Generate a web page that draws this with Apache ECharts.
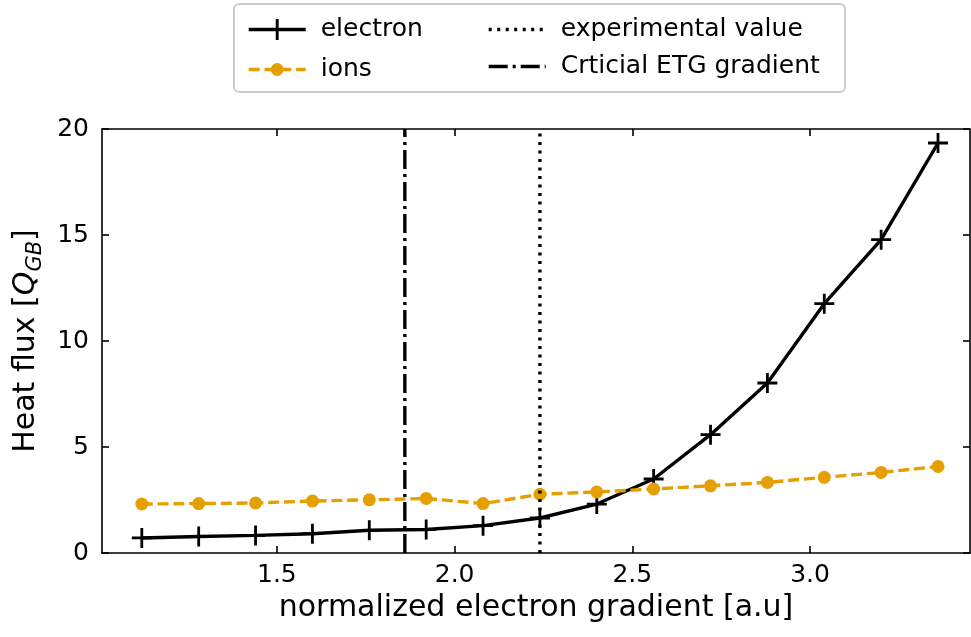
<!DOCTYPE html>
<html>
<head>
<meta charset="utf-8">
<script src="https://cdn.jsdelivr.net/npm/echarts@6/dist/echarts.min.js"></script>
<style>
  html, body { margin: 0; padding: 0; background: #fff; }
  #chart { width: 971px; height: 637px; }
</style>
</head>
<body>
<div id="chart"></div>
<script>
// Normalized electron temperature gradient scan
const gradient = [1.12, 1.28, 1.44, 1.60, 1.76, 1.92, 2.08, 2.24, 2.40, 2.56, 2.72, 2.88, 3.04, 3.20, 3.36];
const electronFlux = [0.71, 0.78, 0.83, 0.91, 1.07, 1.11, 1.29, 1.65, 2.31, 3.49, 5.58, 8.02, 11.76, 14.78, 19.34];
const ionFlux = [2.31, 2.33, 2.36, 2.45, 2.51, 2.57, 2.33, 2.77, 2.88, 3.02, 3.17, 3.33, 3.57, 3.80, 4.08];
const experimentalGradient = 2.24;
const criticalEtgGradient = 1.86;
const xTicks = [1.5, 2.0, 2.5, 3.0];
const yTicks = [0, 5, 10, 15, 20];

const FONT = 'DejaVu Sans';
const X_MIN = 1.008, X_MAX = 3.45;
const Y_MIN = 0, Y_MAX = 20;
const LW = 3.4;

const DOTTED = [3, 5.5];
const DASHDOT = [19, 5, 3, 5];
const DASHED = [11, 4.8];

const pairs = (xs, ys) => xs.map((x, i) => [x, ys[i]]);
const vline = (x) => [[x, Y_MIN], [x, Y_MAX]];

const plusPath = 'path://M8.6,0H11.4V8.6H20V11.4H11.4V20H8.6V11.4H0V8.6H8.6Z';

function baseAxis(type, pos, showLabels, ticks) {
  return {
    type: 'value',
    position: pos,
    min: type === 'x' ? X_MIN : Y_MIN,
    max: type === 'x' ? X_MAX : Y_MAX,
    axisLine: { show: true, onZero: false, lineStyle: { color: '#000', width: 1.6 } },
    axisTick: { show: true, inside: true, length: 7, customValues: ticks, lineStyle: { color: '#000', width: 1.6 } },
    axisLabel: {
      show: showLabels,
      customValues: ticks,
      fontFamily: FONT, fontSize: 25, color: '#000',
      margin: type === 'x' ? 10 : 13,
      formatter: (v) => type === 'x' ? v.toFixed(1) : String(v)
    },
    splitLine: { show: false }
  };
}

const chart = echarts.init(document.getElementById('chart'), null, { renderer: 'canvas' });

const xBottom = baseAxis('x', 'bottom', true, xTicks);
xBottom.name = 'normalized electron gradient [a.u]';
xBottom.nameLocation = 'middle';
xBottom.nameGap = 40;
xBottom.nameTextStyle = { fontFamily: FONT, fontSize: 30, color: '#000' };

const yLeft = baseAxis('y', 'left', true, yTicks);
yLeft.name = '{a|Heat flux [}{q|Q}{s|GB}{a|]}';
yLeft.nameLocation = 'middle';
yLeft.nameGap = 56;
yLeft.nameTextStyle = {
  fontFamily: FONT, fontSize: 30, color: '#000',
  rich: {
    a: { fontFamily: FONT, fontSize: 30, color: '#000', lineHeight: 40, verticalAlign: 'middle' },
    q: { fontFamily: FONT, fontSize: 30, color: '#000', fontStyle: 'italic', lineHeight: 40, verticalAlign: 'middle' },
    s: { fontFamily: FONT, fontSize: 21, color: '#000', fontStyle: 'italic', lineHeight: 21, verticalAlign: 'bottom' }
  }
};

const legendText = { fontFamily: FONT, fontSize: 25, color: '#000', padding: [0, 0, 0, 10] };
const hiddenMarker = { opacity: 0 };

const option = {
  animation: false,
  backgroundColor: '#fff',
  grid: { left: 102, right: 1, top: 129, bottom: 84, containLabel: false },
  xAxis: [xBottom, baseAxis('x', 'top', false, xTicks)],
  yAxis: [yLeft, baseAxis('y', 'right', false, yTicks)],
  graphic: [{
    type: 'rect',
    z: 0,
    shape: { x: 234, y: 4, width: 611, height: 88, r: 5 },
    style: { fill: 'rgba(255,255,255,0.8)', stroke: '#cccccc', lineWidth: 2 }
  }],
  legend: [
    {
      orient: 'vertical', left: 242, top: 12,
      itemWidth: 57, itemHeight: 26,
      data: [{ name: 'electron', lineStyle: { width: LW } }],
      textStyle: legendText
    },
    {
      orient: 'vertical', left: 242, top: 52,
      itemWidth: 57, itemHeight: 16,
      data: [{ name: 'ions', lineStyle: { width: LW } }],
      textStyle: legendText
    },
    {
      orient: 'vertical', left: 482, top: 12,
      itemWidth: 57, itemHeight: 26, itemGap: 12,
      data: [
        { name: 'experimental value', itemStyle: hiddenMarker, lineStyle: { width: LW } },
        { name: 'Crticial ETG gradient', itemStyle: hiddenMarker, lineStyle: { width: LW } }
      ],
      textStyle: legendText
    }
  ],
  series: [
    {
      name: 'electron', type: 'line', z: 2,
      data: pairs(gradient, electronFlux),
      symbol: plusPath, symbolSize: 20,
      itemStyle: { color: '#000' },
      lineStyle: { color: '#000', width: LW }
    },
    {
      name: 'ions', type: 'line', z: 3,
      data: pairs(gradient, ionFlux),
      symbol: 'circle', symbolSize: 13,
      itemStyle: { color: '#e69f00' },
      lineStyle: { color: '#e69f00', width: LW, type: DASHED }
    },
    {
      name: 'experimental value', type: 'line', z: 4,
      data: vline(experimentalGradient),
      symbol: 'none',
      itemStyle: { color: '#000' },
      lineStyle: { color: '#000', width: LW, type: DOTTED }
    },
    {
      name: 'Crticial ETG gradient', type: 'line', z: 4,
      data: vline(criticalEtgGradient),
      symbol: 'none',
      itemStyle: { color: '#000' },
      lineStyle: { color: '#000', width: LW, type: DASHDOT }
    }
  ]
};

chart.setOption(option);
</script>
</body>
</html>
